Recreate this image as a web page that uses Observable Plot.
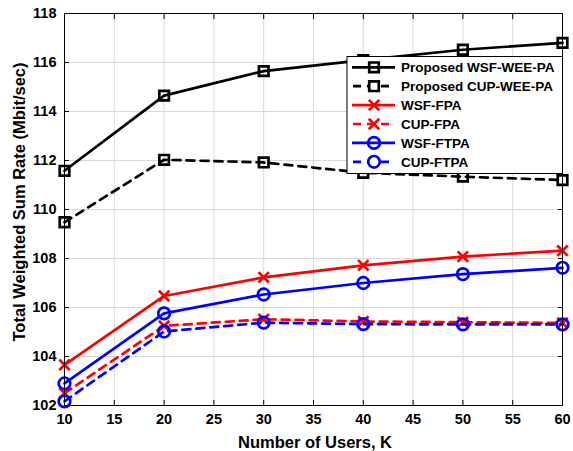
<!DOCTYPE html>
<html><head><meta charset="utf-8">
<script src="https://cdn.jsdelivr.net/npm/d3@7"></script>
<script src="https://cdn.jsdelivr.net/npm/@observablehq/plot@0.6"></script>
<style>
body{margin:0;background:#fff;}
#chart svg{display:block;}
</style>
</head><body><div id="chart"></div>
<script>
const users = [10, 20, 30, 40, 50, 60];
const seriesNames = ["Proposed WSF-WEE-PA","Proposed CUP-WEE-PA","WSF-FPA","CUP-FPA","WSF-FTPA","CUP-FTPA"];
const wsfWee = [111.58, 114.65, 115.65, 116.1, 116.52, 116.8];
const cupWee = [109.48, 112.03, 111.92, 111.5, 111.34, 111.2];
const wsfFpa = [103.66, 106.47, 107.23, 107.72, 108.08, 108.32];
const cupFpa = [102.5, 105.25, 105.52, 105.43, 105.4, 105.37];
const wsfFtpa = [102.9, 105.76, 106.53, 107.0, 107.36, 107.62];
const cupFtpa = [102.17, 105.02, 105.38, 105.32, 105.31, 105.31];
const xTicks = [10,15,20,25,30,35,40,45,50,55,60];
const yTicks = [102,104,106,108,110,112,114,116,118];

const styles = [
  {color:"#000000", dash:null, symbol:"square"},
  {color:"#000000", dash:"8,6", symbol:"square"},
  {color:"#ff0000", dash:null, symbol:"times"},
  {color:"#ff0000", dash:"8,6", symbol:"times"},
  {color:"#0000ff", dash:null, symbol:"circle"},
  {color:"#0000ff", dash:"8,6", symbol:"circle"}
];
const allValues = [wsfWee, cupWee, wsfFpa, cupFpa, wsfFtpa, cupFtpa];
const data = allValues.map((vals, i) => users.map((u, j) => ({x:u, y:vals[j], s:seriesNames[i]})));

const symR = {square:5.4, times:4.8, circle:5.8};
const noText = () => "";
const marks = [
  Plot.gridX(xTicks, {stroke:"#d9d9d9", strokeOpacity:1, strokeWidth:1}),
  Plot.gridY(yTicks, {stroke:"#d9d9d9", strokeOpacity:1, strokeWidth:1}),
];
data.forEach((d, i) => {
  const st = styles[i];
  marks.push(Plot.line(d, {x:"x", y:"y", stroke:st.color, strokeWidth:2.7, strokeDasharray:st.dash}));
  marks.push(Plot.dot(d, {x:"x", y:"y", symbol:st.symbol, r:symR[st.symbol], stroke:st.color, strokeWidth:2.7, fill:"none"}));
});
marks.push(
  Plot.frame({stroke:"#000", strokeWidth:1}),
  Plot.axisX(xTicks, {anchor:"bottom", tickSize:-5, tickPadding:13, fontSize:14.5, fontWeight:"bold", label:null}),
  Plot.axisX(xTicks, {anchor:"top", tickSize:-5, tickFormat:noText, label:null}),
  Plot.axisY(yTicks, {anchor:"left", tickSize:-5, tickPadding:13, fontSize:14.5, fontWeight:"bold", label:null}),
  Plot.axisY(yTicks, {anchor:"right", tickSize:-5, tickFormat:noText, label:null})
);

const plot = Plot.plot({
  width:573, height:451,
  marginLeft:64, marginRight:11, marginTop:13, marginBottom:46,
  style:{fontFamily:"'Liberation Sans', Arial, sans-serif", color:"#000", background:"#fff"},
  x:{domain:[10,60]},
  y:{domain:[102,118]},
  marks
});
document.getElementById("chart").appendChild(plot);

const svg = d3.select(plot);
const ff = "'Liberation Sans', Arial, sans-serif";
// axis titles
svg.append("text").attr("x", 315).attr("y", 448).attr("text-anchor","middle")
  .attr("font-size", 16.5).attr("font-weight","bold").attr("fill","#000")
  .attr("font-family",ff)
  .text("Number of Users, K");
svg.append("text").attr("transform","translate(25,202) rotate(-90)").attr("text-anchor","middle")
  .attr("font-size", 16.5).attr("font-weight","bold").attr("fill","#000")
  .attr("font-family",ff)
  .text("Total Weighted Sum Rate (Mbit/sec)");

// legend
const lg = svg.append("g");
lg.append("rect").attr("x",347).attr("y",56.5).attr("width",215.5).attr("height",117)
  .attr("fill","#fff").attr("stroke","#000").attr("stroke-width",1);
seriesNames.forEach((name, i) => {
  const st = styles[i];
  const yy = 67.3 + i*18.9;
  const g = lg.append("g");
  g.append("line").attr("x1",352).attr("x2",395).attr("y1",yy).attr("y2",yy)
    .attr("stroke",st.color).attr("stroke-width",2.7)
    .attr("stroke-dasharray", st.dash ? "8,6" : null)
    .attr("stroke-dashoffset", st.dash ? -1 : null);
  const sym = st.symbol === "square" ? d3.symbolSquare : st.symbol === "times" ? d3.symbolTimes : d3.symbolCircle;
  const r = symR[st.symbol];
  g.append("path").attr("d", d3.symbol(sym, Math.PI*r*r)())
    .attr("transform",`translate(374,${yy})`)
    .attr("fill", st.dash ? "#fff" : "none").attr("stroke", st.color).attr("stroke-width",2.7);
  g.append("text").attr("x",401).attr("y",yy).attr("dy","0.36em").attr("text-anchor","start")
    .attr("font-size",13.5).attr("font-weight","bold").attr("fill","#000")
    .attr("font-family",ff)
    .text(name);
});
</script>
</body></html>
